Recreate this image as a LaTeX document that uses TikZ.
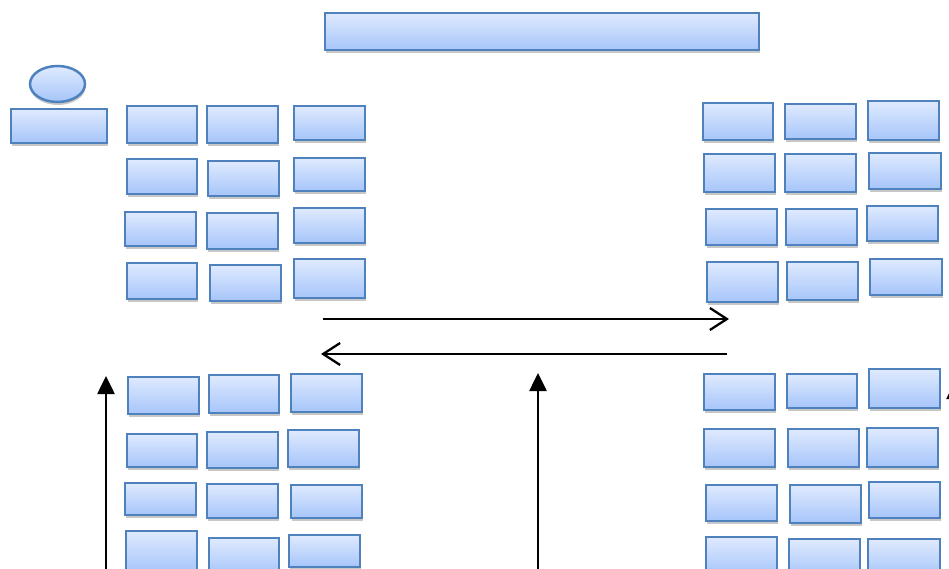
\documentclass[tikz,border=0pt]{standalone}
\usetikzlibrary{shadows,arrows.meta,shapes.geometric}
\definecolor{bxline}{HTML}{4F81BD}
\definecolor{bxtop}{HTML}{DFEAFE}
\definecolor{bxbot}{HTML}{A6C5FA}
\tikzset{
  bx/.style={draw=bxline, line width=2.5pt, top color=bxtop, bottom color=bxbot,
    inner sep=0pt, outer sep=0pt,
    drop shadow={shadow xshift=0.5pt, shadow yshift=-3pt, opacity=0.22, fill=black}},
  uparrow/.style={line width=2.6pt, -{Triangle[length=18pt,width=17pt]}},
  harrow/.style={line width=2.3pt, -{Straight Barb[length=17pt,width=22pt,line width=2.3pt]}}
}
\newcommand{\bxnode}[5]{%
  \node[bx, rectangle, minimum width={(#4-#2)*1pt}, minimum height={(#5-#3)*1pt}]
    (#1) at ({(#2+#4)/2},{(#3+#5)/2}) {};}
\begin{document}
\begin{tikzpicture}[x=1pt,y=-1pt]
\useasboundingbox (0,0) rectangle (949,569);
\clip (0,0) rectangle (949,569);
% top banner
\bxnode{top}{325}{13}{759}{50}
% person
\node[bx, ellipse, minimum width=55pt, minimum height=36pt] (head) at (57.5,84) {};
\bxnode{desk}{11}{109}{107}{143}
% top-left grid
\bxnode{a11}{127}{106}{197}{143}
\bxnode{a12}{207}{106}{278}{143}
\bxnode{a13}{294}{106}{365}{140}
\bxnode{a21}{127}{159}{197}{194}
\bxnode{a22}{208}{161}{279}{196}
\bxnode{a23}{294}{158}{365}{191}
\bxnode{a31}{125}{212}{196}{246}
\bxnode{a32}{207}{213}{278}{249}
\bxnode{a33}{294}{208}{365}{243}
\bxnode{a41}{127}{263}{197}{299}
\bxnode{a42}{210}{265}{281}{301}
\bxnode{a43}{294}{259}{365}{298}
% top-right grid
\bxnode{b11}{703}{103}{773}{140}
\bxnode{b12}{785}{104}{856}{139}
\bxnode{b13}{868}{101}{939}{140}
\bxnode{b21}{704}{154}{775}{192}
\bxnode{b22}{785}{154}{856}{192}
\bxnode{b23}{869}{153}{941}{189}
\bxnode{b31}{706}{209}{777}{245}
\bxnode{b32}{786}{209}{857}{245}
\bxnode{b33}{867}{206}{938}{241}
\bxnode{b41}{707}{262}{778}{302}
\bxnode{b42}{787}{262}{858}{300}
\bxnode{b43}{870}{259}{942}{295}
% bottom-left grid
\bxnode{c11}{128}{377}{199}{414}
\bxnode{c12}{209}{375}{279}{413}
\bxnode{c13}{291}{374}{362}{412}
\bxnode{c21}{127}{434}{197}{467}
\bxnode{c22}{207}{432}{278}{468}
\bxnode{c23}{288}{430}{359}{467}
\bxnode{c31}{125}{483}{196}{515}
\bxnode{c32}{207}{484}{278}{518}
\bxnode{c33}{291}{485}{362}{518}
\bxnode{c41}{126}{531}{197}{572}
\bxnode{c42}{209}{538}{279}{575}
\bxnode{c43}{289}{535}{360}{567}
% bottom-right grid
\bxnode{d11}{704}{374}{775}{410}
\bxnode{d12}{787}{374}{857}{408}
\bxnode{d13}{869}{369}{940}{408}
\bxnode{d21}{704}{429}{775}{467}
\bxnode{d22}{788}{429}{859}{467}
\bxnode{d23}{867}{428}{938}{467}
\bxnode{d31}{706}{485}{777}{521}
\bxnode{d32}{790}{485}{861}{523}
\bxnode{d33}{869}{482}{940}{518}
\bxnode{d41}{706}{537}{777}{575}
\bxnode{d42}{789}{539}{860}{577}
\bxnode{d43}{868}{539}{940}{577}
% arrows
\coordinate (r1) at (323,319);
\coordinate (r2) at (729,319);
\coordinate (l1) at (727,354);
\coordinate (l2) at (321,354);
\draw[harrow] (r1) -- (r2);
\draw[harrow] (l1) -- (l2);
\coordinate (u1s) at (106,575);
\coordinate (u1e) at (106,376);
\coordinate (u2s) at (538,575);
\coordinate (u2e) at (538,373);
\coordinate (u3s) at (955,575);
\coordinate (u3e) at (955,381);
\draw[uparrow] (u1s) -- (u1e);
\draw[uparrow] (u2s) -- (u2e);
\draw[uparrow] (u3s) -- (u3e);
\end{tikzpicture}
\end{document}
